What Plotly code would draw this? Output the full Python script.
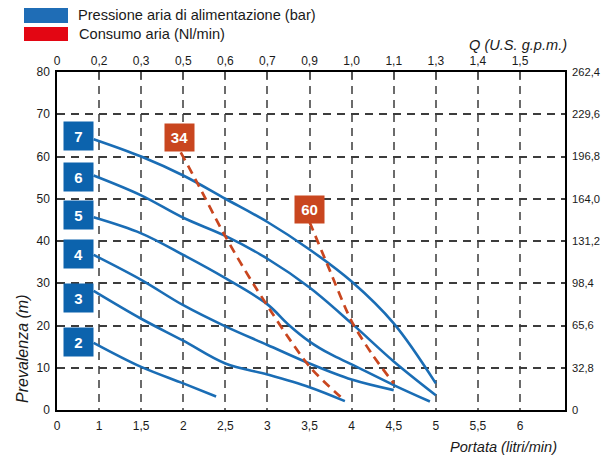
import plotly.graph_objects as go

# ---------------- data ----------------
BOTTOM_TICK_LABELS = ["0", "1", "1,5", "2", "2,5", "3", "3,5", "4", "4,5", "5", "5,5", "6"]
TOP_TICK_LABELS = ["0", "0,2", "0,3", "0,5", "0,6", "0,7", "0,9", "1,0", "1,1", "1,3", "1,4", "1,5"]
LEFT_TICKS_M = [0, 10, 20, 30, 40, 50, 60, 70, 80]
RIGHT_TICKS_FT = [0, 32.8, 65.6, 98.4, 131.2, 164.0, 196.8, 229.6, 262.4]
RIGHT_TICK_LABELS = ["0", "32,8", "65,6", "98,4", "131,2", "164,0", "196,8", "229,6", "262,4"]

# pump curves: flow (litri/min) vs head (m), per supply pressure (bar)
p7_q = [0.87, 1.5, 2.0, 2.5, 3.0, 3.5, 4.0, 4.5, 5.0]
p7_h = [64.1, 60.0, 55.5, 50.0, 44.5, 38.0, 30.4, 20.5, 6.3]
p6_q = [0.87, 1.5, 2.0, 2.5, 3.0, 3.5, 4.0, 4.5, 5.0]
p6_h = [55.5, 50.8, 45.5, 41.2, 35.8, 29.0, 20.5, 11.5, 3.5]
p5_q = [0.87, 1.5, 2.0, 2.5, 3.0, 3.25, 3.5, 3.75, 4.0, 4.5, 4.93]
p5_h = [45.6, 41.8, 36.7, 31.2, 25.0, 20.2, 16.2, 13.2, 10.8, 5.9, 2.0]
p4_q = [0.87, 1.5, 2.0, 2.5, 3.0, 3.5, 4.0, 4.5]
p4_h = [36.7, 30.8, 24.8, 19.8, 15.4, 11.0, 7.2, 4.7]
p3_q = [0.87, 1.5, 2.0, 2.5, 3.0, 3.5, 3.92]
p3_h = [28.2, 21.6, 16.4, 11.0, 8.4, 5.4, 2.1]
p2_q = [0.87, 1.5, 2.0, 2.39]
p2_h = [15.9, 10.2, 6.3, 3.2]

pressure_curves = [("7", p7_q, p7_h), ("6", p6_q, p6_h), ("5", p5_q, p5_h),
                   ("4", p4_q, p4_h), ("3", p3_q, p3_h), ("2", p2_q, p2_h)]

# air consumption lines (Nl/min)
c34_q = [1.97, 2.16, 2.48, 2.85, 3.5, 3.92]
c34_h = [61.0, 54.0, 41.8, 29.3, 10.3, 2.2]
c60_q = [3.5, 3.7, 4.0, 4.25, 4.5]
c60_h = [44.5, 35.0, 21.0, 13.0, 6.3]
consumption_lines = [("34", c34_q, c34_h), ("60", c60_q, c60_h)]

# label box positions (flow, head)
pressure_label_q = 0.52
pressure_label_h = [64.9, 55.1, 46.2, 36.9, 26.5, 16.1]
consumption_label_q = [1.96, 3.5]
consumption_label_h = [64.4, 47.5]

BLUE_LINE = "#1a6db5"
BLUE_BOX = "#0c63ad"
RED = "#c9461f"
FONT = "Liberation Sans, Arial, sans-serif"


def pos(q):
    """Map flow (litri/min) to the chart's axis position (0-1 compressed, then 0.5 per step)."""
    return q if q <= 1 else 1 + 2 * (q - 1)


fig = go.Figure()

for name, q, h in pressure_curves:
    fig.add_trace(go.Scatter(x=[pos(v) for v in q], y=h, mode="lines",
                             line=dict(color=BLUE_LINE, width=2.6, shape="spline", smoothing=1.0),
                             name=name, hoverinfo="skip"))

for name, q, h in consumption_lines:
    fig.add_trace(go.Scatter(x=[pos(v) for v in q], y=h, mode="lines",
                             line=dict(color=RED, width=2.7, dash="9px,6px", shape="spline", smoothing=0.8),
                             name=name, hoverinfo="skip"))

# invisible trace to activate secondary axes
fig.add_trace(go.Scatter(x=[0], y=[0], xaxis="x2", yaxis="y2", mode="markers",
                         marker=dict(opacity=0), hoverinfo="skip", showlegend=False))

annotations = []
for (name, _, _), h in zip(pressure_curves, pressure_label_h):
    annotations.append(dict(x=pos(pressure_label_q), y=h, xref="x", yref="y", text="<b>%s</b>" % name,
                            showarrow=False, bgcolor=BLUE_BOX, width=29, height=28, borderpad=0,
                            font=dict(family=FONT, size=15, color="white")))
for (name, _, _), q, h in zip(consumption_lines, consumption_label_q, consumption_label_h):
    annotations.append(dict(x=pos(q), y=h, xref="x", yref="y", text="<b>%s</b>" % name,
                            showarrow=False, bgcolor=RED, width=29, height=27, borderpad=0,
                            font=dict(family=FONT, size=15, color="white")))

# plot area in pixels: x 57..565, y 72..410
def px(x):
    return (x - 57) / 508.0


def py(y):
    return (410 - y) / 338.0


annotations += [
    dict(x=px(76), y=py(15.5), xref="paper", yref="paper", xanchor="left", yanchor="middle",
         text="Pressione aria di alimentazione (bar)", showarrow=False,
         font=dict(family=FONT, size=14.6, color="#1a1a1a")),
    dict(x=px(77), y=py(33.5), xref="paper", yref="paper", xanchor="left", yanchor="middle",
         text="Consumo aria (Nl/min)", showarrow=False,
         font=dict(family=FONT, size=14.6, color="#1a1a1a")),
    dict(x=px(569), y=py(45), xref="paper", yref="paper", xanchor="right", yanchor="middle",
         text="<i>Q (U.S. g.p.m.)</i>", showarrow=False,
         font=dict(family=FONT, size=14.6, color="#1a1a1a")),
    dict(x=px(559), y=py(447), xref="paper", yref="paper", xanchor="right", yanchor="middle",
         text="<i>Portata (litri/min)</i>", showarrow=False,
         font=dict(family=FONT, size=14.6, color="#1a1a1a")),
    dict(x=px(22), y=py(349), xref="paper", yref="paper", xanchor="center", yanchor="middle",
         text="<i>Prevalenza (m)</i>", textangle=-90, showarrow=False,
         font=dict(family=FONT, size=16, color="#1a1a1a")),
]

shapes = [
    dict(type="rect", xref="paper", yref="paper", x0=px(24), x1=px(68), y0=py(23), y1=py(8),
         fillcolor="#1f6db6", line=dict(width=0)),
    dict(type="rect", xref="paper", yref="paper", x0=px(24), x1=px(68), y0=py(41), y1=py(27),
         fillcolor="#e30613", line=dict(width=0)),
]

XMAX = 508 / 42.09
tickfont = dict(family=FONT, size=12, color="#1a1a1a")
right_tickfont = dict(family=FONT, size=11.2, color="#1a1a1a")

fig.update_layout(
    width=602, height=456,
    margin=dict(l=57, r=37, t=72, b=46, autoexpand=False),
    plot_bgcolor="white", paper_bgcolor="white",
    showlegend=False,
    annotations=annotations,
    shapes=shapes,
    xaxis=dict(range=[0, XMAX], tickvals=list(range(len(BOTTOM_TICK_LABELS))), ticktext=BOTTOM_TICK_LABELS,
               showgrid=True, gridcolor="#6b6b6b", gridwidth=1.5, griddash="8px,6px",
               showline=True, linecolor="black", linewidth=1.5, zeroline=False, ticks="",
               ticklabelstandoff=4, tickfont=tickfont, fixedrange=True, automargin=False),
    yaxis=dict(range=[0, 80], tickvals=LEFT_TICKS_M, showgrid=True, gridcolor="#3c3c3c", gridwidth=1.5,
               griddash="8px,6px", showline=True, linecolor="black", linewidth=1.5, zeroline=False,
               ticks="", ticklabelstandoff=3, tickfont=tickfont, fixedrange=True, automargin=False),
    xaxis2=dict(range=[0, XMAX], overlaying="x", side="top", tickvals=list(range(len(TOP_TICK_LABELS))),
                ticktext=TOP_TICK_LABELS, showgrid=False, showline=True, linecolor="black", linewidth=1.5,
                zeroline=False, ticks="inside", ticklen=7, tickwidth=1.5, tickcolor="#555",
                ticklabelstandoff=0, tickfont=tickfont, fixedrange=True, automargin=False),
    yaxis2=dict(range=[0, 262.4], overlaying="y", side="right", tickvals=RIGHT_TICKS_FT,
                ticktext=RIGHT_TICK_LABELS, showgrid=False, showline=True, linecolor="black", linewidth=1.5,
                zeroline=False, ticks="", ticklabelstandoff=3, tickfont=right_tickfont, fixedrange=True,
                automargin=False),
)

fig.write_html("out.html")
